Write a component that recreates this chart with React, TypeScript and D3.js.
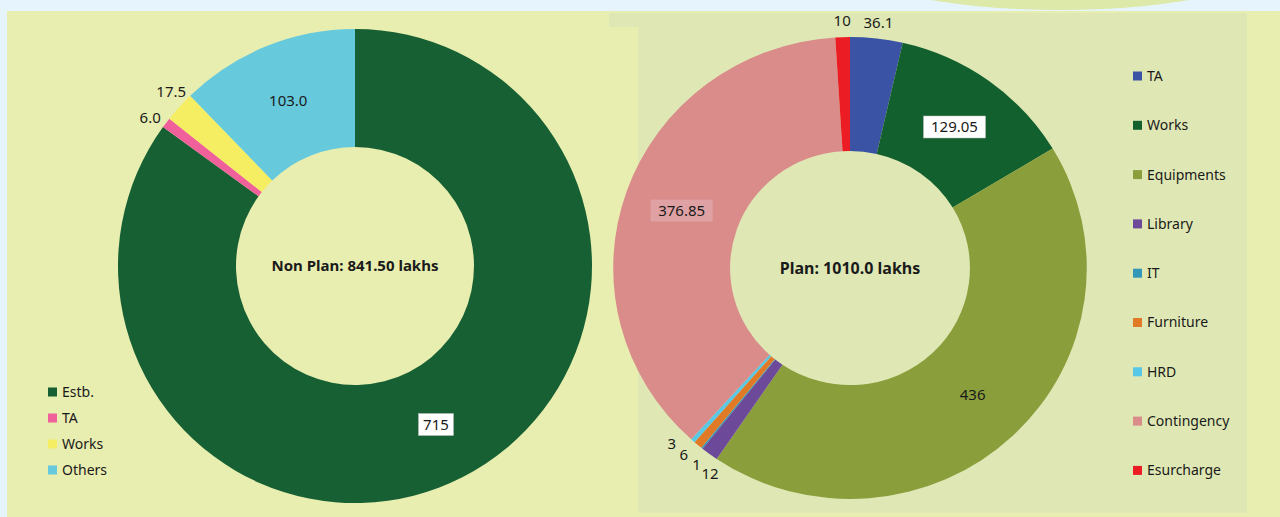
import { useRef, useEffect } from 'react';
import * as d3 from 'd3';

// Non Plan (left)
const nonPlanLabels = ['Estb.', 'TA', 'Works', 'Others'];
const nonPlanValues = [715, 6.0, 17.5, 103.0];
const nonPlanText = ['715', '6.0', '17.5', '103.0'];
const nonPlanColors = ['#176033', '#f0609b', '#f6ee62', '#66c9dc'];
const nonPlanTitle = 'Non Plan: 841.50 lakhs';

// Plan (right)
const planLabels = ['TA', 'Works', 'Equipments', 'Library', 'IT', 'Furniture', 'HRD', 'Contingency', 'Esurcharge'];
const planValues = [36.1, 129.05, 436, 12, 1, 6, 3, 376.85, 10];
const planText = ['36.1', '129.05', '436', '12', '1', '6', '3', '376.85', '10'];
const planColors = ['#3a53a4', '#13602f', '#8a9e3c', '#6c4a99', '#3597b8', '#e07a26', '#58c8e6', '#d98c8a', '#ec1c24'];
const planTitle = 'Plan: 1010.0 lakhs';

const W = 1280;
const H = 517;
const FONT = "'Noto Sans', 'Open Sans', sans-serif";

type DonutOpts = {
  cx: number;
  cy: number;
  rOuter: number;
  rInner: number;
  sx: number;
  values: number[];
  texts: string[];
  colors: string[];
  title: string;
  titleSize: number;
  boxed: Record<number, string>;
  outsideMin: number;
  minGap: number;
  fontSize: number;
};

function drawDonut(g: d3.Selection<SVGGElement, unknown, null, undefined>, o: DonutOpts) {
  const total = d3.sum(o.values);
  const pie = d3.pie<number>().sort(null).value(d => d)(o.values);
  const arc = d3.arc<d3.PieArcDatum<number>>().innerRadius(o.rInner).outerRadius(o.rOuter);

  const dg = g.append('g').attr('transform', `translate(${o.cx},${o.cy}) scale(${o.sx},1)`);
  dg.selectAll('path')
    .data(pie)
    .join('path')
    .attr('d', arc)
    .attr('fill', (_, i) => o.colors[i]);

  // labels
  const inside = pie.filter(p => p.value / total >= o.outsideMin);
  const outside = pie.filter(p => p.value / total < o.outsideMin);

  const lg = g.append('g').attr('transform', `translate(${o.cx},${o.cy})`);
  inside.forEach(p => {
    const [x, y] = arc.centroid(p);
    const t = o.texts[p.index];
    const px = x * o.sx;
    const fill = o.boxed[p.index];
    if (fill) {
      const w = t.length * o.fontSize * 0.6 + 8;
      lg.append('rect')
        .attr('x', px - w / 2)
        .attr('y', y - 11)
        .attr('width', w)
        .attr('height', 22)
        .attr('fill', fill)
        .attr('stroke', fill === '#ffffff' ? '#bbbbbb' : 'none')
        .attr('stroke-width', 0.5);
    }
    lg.append('text')
      .attr('x', px)
      .attr('y', y)
      .attr('dy', '0.35em')
      .attr('text-anchor', 'middle')
      .style('font-size', `${o.fontSize}px`)
      .attr('fill', '#1a1a1a')
      .text(t);
  });

  // spread outside labels that sit close together
  const mids = outside.map(p => ({ p, a: (p.startAngle + p.endAngle) / 2 }));
  const groups: { p: d3.PieArcDatum<number>; a: number }[][] = [];
  mids.forEach(m => {
    const last = groups[groups.length - 1];
    if (last && m.a - last[last.length - 1].a < o.minGap) last.push(m);
    else groups.push([m]);
  });
  groups.forEach(gr => {
    if (gr.length < 2) return;
    const mean = d3.mean(gr, d => d.a) as number;
    gr.forEach((m, i) => (m.a = mean + (i - (gr.length - 1) / 2) * o.minGap));
  });
  const rl = o.rOuter + 16;
  mids.forEach(m => {
    const x = Math.sin(m.a) * rl * o.sx;
    const y = -Math.cos(m.a) * rl;
    lg.append('text')
      .attr('x', x)
      .attr('y', y)
      .attr('dy', '0.35em')
      .attr('text-anchor', 'middle')
      .style('font-size', `${o.fontSize}px`)
      .attr('fill', '#1a1a1a')
      .text(o.texts[m.p.index]);
  });

  lg.append('text')
    .attr('x', 0)
    .attr('y', 0)
    .attr('dy', '0.35em')
    .attr('text-anchor', 'middle')
    .style('font-size', `${o.titleSize}px`)
    .style('font-weight', 'bold')
    .attr('fill', '#1a1a1a')
    .text(o.title);
}

function drawLegend(
  g: d3.Selection<SVGGElement, unknown, null, undefined>,
  labels: string[],
  colors: string[],
  x: number,
  y: number,
  step: number,
  size: number,
) {
  const items = g
    .append('g')
    .selectAll('g')
    .data(labels)
    .join('g')
    .attr('transform', (_, i) => `translate(${x},${y + i * step})`);
  items.append('rect')
    .attr('x', 0)
    .attr('y', -size / 2)
    .attr('width', size)
    .attr('height', size)
    .attr('fill', (_, i) => colors[i]);
  items.append('text')
    .attr('x', size + 5)
    .attr('y', 0)
    .attr('dy', '0.35em')
    .style('font-size', '14px')
    .attr('fill', '#1a1a1a')
    .text(d => d);
}

export default function App() {
  const svgRef = useRef<SVGSVGElement>(null);

  useEffect(() => {
    const svg = d3.select(svgRef.current);
    svg.selectAll('*').remove();
    svg.attr('viewBox', `0 0 ${W} ${H}`).style('font-family', FONT);

    // backgrounds
    svg.append('rect').attr('width', W).attr('height', H).attr('fill', '#e6f5fd');
    svg.append('ellipse').attr('cx', 1060).attr('cy', -40).attr('rx', 215).attr('ry', 50).attr('fill', '#dce9a8');
    svg.append('rect').attr('x', 7).attr('y', 11).attr('width', W - 7).attr('height', H - 11).attr('fill', '#e8edb0');
    svg.append('rect').attr('x', 609).attr('y', 13).attr('width', 638).attr('height', 500).attr('fill', '#dfe8b4');
    svg.append('rect').attr('x', 7).attr('y', 27).attr('width', 631).attr('height', H - 27).attr('fill', '#e8edb0');

    const root = svg.append('g');

    drawDonut(root, {
      cx: 355,
      cy: 266,
      rOuter: 237,
      rInner: 119,
      sx: 1,
      values: nonPlanValues,
      texts: nonPlanText,
      colors: nonPlanColors,
      title: nonPlanTitle,
      titleSize: 15,
      boxed: { 0: '#ffffff' },
      outsideMin: 0.05,
      minGap: 0.13,
      fontSize: 15,
    });
    drawLegend(root, nonPlanLabels, nonPlanColors, 48, 392, 26, 9);

    drawDonut(root, {
      cx: 850,
      cy: 268,
      rOuter: 231,
      rInner: 117,
      sx: 1.025,
      values: planValues,
      texts: planText,
      colors: planColors,
      title: planTitle,
      titleSize: 16,
      boxed: { 1: '#ffffff', 7: 'rgba(225,170,175,0.7)' },
      outsideMin: 0.04,
      minGap: 0.065,
      fontSize: 15,
    });
    drawLegend(root, planLabels, planColors, 1133, 76, 49.3, 9);
  }, []);

  return (
    <div style={{ position: 'absolute', left: 0, top: 0 }}>
      <svg ref={svgRef} width={W} height={H} style={{ display: 'block' }} />
    </div>
  );
}
